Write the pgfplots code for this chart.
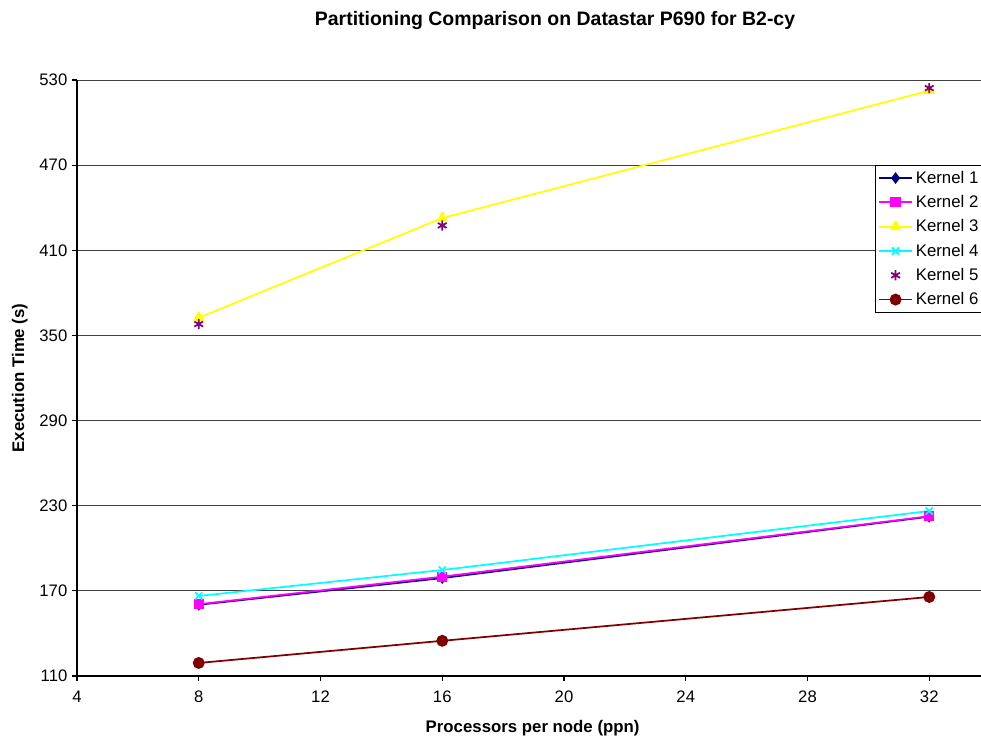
\documentclass[border=0pt]{standalone}
\usepackage{pgfplots}
\pgfplotsset{compat=1.18}
\usepackage{fontspec}
\setmainfont{Liberation Sans}
\begin{document}
\begin{tikzpicture}
  \definecolor{kone}{RGB}{0,0,128}
  \definecolor{ktwo}{RGB}{255,0,255}
  \definecolor{kthree}{RGB}{255,255,0}
  \definecolor{kfour}{RGB}{0,255,255}
  \definecolor{kfive}{RGB}{128,0,128}
  \definecolor{ksix}{RGB}{128,0,0}
  \pgfplotsset{
    scale only axis,
    width=678pt,
    height=447pt,
  }
  \begin{axis}[
    xmin=4, xmax=33.7,
    ymin=110, ymax=530,
    xtick={4,8,...,32},
    ytick={110,170,...,530},
    axis x line*=bottom,
    axis y line*=left,
    axis line style={black, line width=0.8pt},
    tick align=outside,
    major tick length=3.75pt,
    tick style={black, line width=0.8pt},
    ymajorgrids,
    grid style={black!75, line width=0.6pt},
    ticklabel style={font=\fontsize{12.5}{15}\selectfont},
    xticklabel style={yshift=-4pt},
    /pgf/number format/assume math mode=true,
    title={Partitioning Comparison on Datastar P690 for B2-cy},
    title style={font=\fontsize{14.6}{17}\selectfont\bfseries,
      at={(axis description cs:0.5288,1.0906)}, anchor=base, yshift=-6pt},
    xlabel={Processors per node (ppn)},
    xlabel style={font=\fontsize{12.6}{15}\selectfont\bfseries,
      at={(axis description cs:0.504,-0.094)}, anchor=base},
    ylabel={Execution Time (s)},
    ylabel style={font=\fontsize{12.6}{15}\selectfont\bfseries,
      at={(axis description cs:-0.0586,0.5)}, anchor=base, rotate=0},
    legend style={at={(axis description cs:0.8827,0.857)}, anchor=north west,
      draw=black, line width=0.6pt, font=\fontsize{12.6}{15}\selectfont,
      row sep=3.6pt, inner xsep=2pt, inner ysep=2pt},
    legend cell align=left,
    legend image code/.code={%
      \draw[mark repeat=2, mark phase=2, #1]
        plot coordinates {(0cm,0cm) (0.44cm,0cm) (0.88cm,0cm)};},
    legend image post style={line width=1.3pt},
    every axis plot/.append style={line width=1.3pt},
  ]
    \addplot[color=kone, mark=diamond*, mark size=3.4pt] coordinates {
      (8,160.2) (16,179.0) (32,222.3)
    };
    \addlegendentry{Kernel 1}
    \addplot[color=ktwo, mark=square*, mark size=3.2pt] coordinates {
      (8,160.6) (16,180.0) (32,222.6)
    };
    \addlegendentry{Kernel 2}
    \addplot[color=kthree, mark=triangle*, mark size=3.8pt] coordinates {
      (8,362.5) (16,432.7) (32,522.5)
    };
    \addlegendentry{Kernel 3}
    \addplot[color=kfour, mark=x, mark size=3.8pt] coordinates {
      (8,166.4) (16,184.7) (32,226.3)
    };
    \addlegendentry{Kernel 4}
    \addplot[color=kfive, only marks, mark=asterisk, mark size=3.8pt,
      mark options={line width=1.3pt}] coordinates {
      (8,358.0) (16,427.5) (32,524.3)
    };
    \addlegendentry{Kernel 5}
    \addplot[color=ksix, mark=*, mark size=3.8pt] coordinates {
      (8,119.2) (16,134.8) (32,165.7)
    };
    \addlegendentry{Kernel 6}
  \end{axis}
  \pgfresetboundingbox
  \path[use as bounding box] (-57.75pt,-48pt) rectangle (678pt,507pt);
\end{tikzpicture}
\end{document}
